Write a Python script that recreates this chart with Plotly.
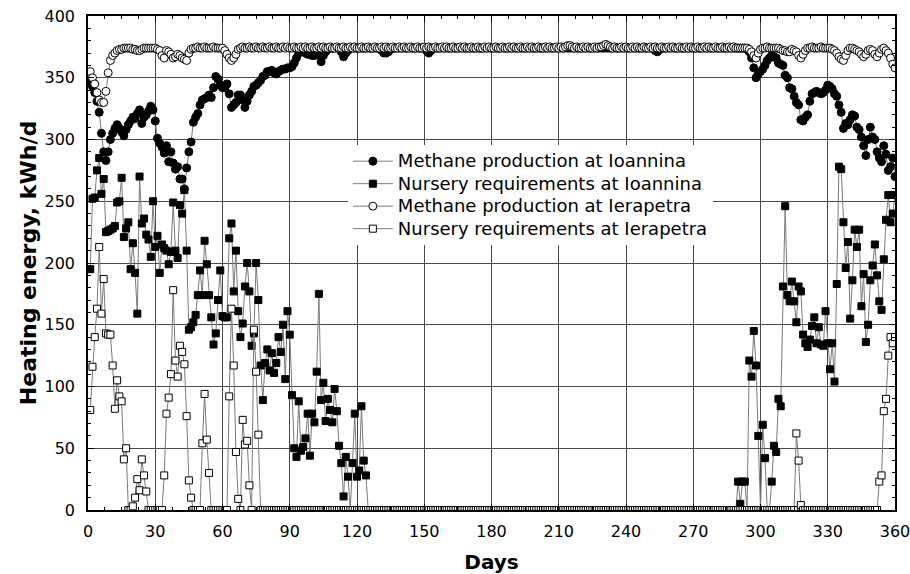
import plotly.graph_objects as go

# ---------------- data ----------------
days = list(range(1, 361))

methane_ioannina = [
    346, 343, 338, 331, 322, 305, 290, 283, 290, 300, 305, 309, 312, 309, 306, 303, 308, 312, 315, 318,
    317, 321, 324, 313, 318, 320, 323, 327, 324, 315, 301, 297, 294, 289, 295, 282, 290, 281, 276, 278,
    268, 268, 260, 277, 290, 298, 314, 318, 321, 328, 332, 333, 334, 336, 334, 342, 351, 349, 344, 342,
    342, 345, 337, 326, 328, 330, 336, 336, 332, 326, 331, 336, 339, 343, 344, 346, 348, 351, 352, 355,
    355, 356, 354, 353, 355, 356, 357, 357, 358, 358, 359, 362, 366, 370, 372, 371, 370, 369, 369, 368,
    368, 369, 371, 363, 368, 371, 373, 374, 374, 374, 374, 374, 371, 367, 370, 372, 374, 374, 374, 374,
    374, 374, 374, 374, 374, 374, 374, 374, 374, 374, 372, 370, 370, 371, 373, 374, 374, 374, 374, 374,
    374, 374, 374, 374, 374, 374, 374, 374, 374, 374, 372, 370, 372, 374, 374, 374, 374, 374, 374, 374,
    374, 374, 374, 374, 374, 374, 374, 374, 374, 374, 374, 374, 374, 374, 374, 374, 374, 374, 374, 374,
    374, 374, 374, 374, 374, 374, 374, 374, 374, 374, 374, 374, 374, 374, 374, 374, 374, 374, 374, 374,
    374, 374, 374, 374, 374, 374, 374, 374, 374, 374, 374, 374, 374, 374, 374, 374, 374, 374, 374, 374,
    374, 374, 374, 374, 374, 374, 374, 374, 374, 374, 374, 374, 374, 374, 374, 374, 374, 374, 374, 374,
    374, 374, 374, 374, 374, 374, 374, 374, 374, 374, 374, 374, 372, 371, 373, 374, 374, 374, 374, 374,
    374, 374, 374, 374, 374, 374, 374, 374, 374, 374, 374, 374, 374, 374, 374, 374, 374, 374, 374, 374,
    374, 374, 374, 374, 374, 374, 374, 374, 374, 374, 374, 374, 374, 373, 371, 366, 358, 350, 353, 355,
    357, 360, 364, 366, 368, 367, 366, 362, 361, 360, 352, 350, 342, 341, 335, 330, 328, 316, 315, 318,
    320, 331, 337, 338, 339, 338, 337, 338, 340, 344, 343, 341, 337, 335, 328, 322, 309, 313, 312, 316,
    320, 319, 310, 308, 302, 295, 287, 300, 310, 302, 300, 290, 285, 282, 295, 288, 275, 278, 285, 270,
]

nursery_ioannina = [
    195, 252, 253, 275, 285, 256, 268, 225, 226, 227, 228, 230, 249, 250, 269, 221, 228, 233, 195, 216,
    192, 159, 270, 232, 236, 223, 219, 205, 250, 213, 222, 192, 215, 212, 210, 199, 209, 249, 210, 204,
    247, 240, 259, 210, 146, 148, 152, 158, 174, 194, 174, 218, 199, 174, 156, 134, 143, 170, 194, 157,
    156, 156, 220, 232, 177, 210, 161, 140, 151, 181, 200, 177, 133, 143, 200, 170, 117, 89, 119, 130,
    113, 127, 111, 119, 140, 128, 150, 106, 161, 142, 93, 50, 43, 88, 48, 51, 58, 78, 44, 78,
    71, 112, 175, 89, 103, 72, 90, 81, 71, 98, 80, 52, 38, 11, 43, 27, 0, 38, 78, 27,
    32, 84, 40, 28, 0, 0, 0, 0, 0, 0, 0, 0, 0, 0, 0, 0, 0, 0, 0, 0,
    0, 0, 0, 0, 0, 0, 0, 0, 0, 0, 0, 0, 0, 0, 0, 0, 0, 0, 0, 0,
    0, 0, 0, 0, 0, 0, 0, 0, 0, 0, 0, 0, 0, 0, 0, 0, 0, 0, 0, 0,
    0, 0, 0, 0, 0, 0, 0, 0, 0, 0, 0, 0, 0, 0, 0, 0, 0, 0, 0, 0,
    0, 0, 0, 0, 0, 0, 0, 0, 0, 0, 0, 0, 0, 0, 0, 0, 0, 0, 0, 0,
    0, 0, 0, 0, 0, 0, 0, 0, 0, 0, 0, 0, 0, 0, 0, 0, 0, 0, 0, 0,
    0, 0, 0, 0, 0, 0, 0, 0, 0, 0, 0, 0, 0, 0, 0, 0, 0, 0, 0, 0,
    0, 0, 0, 0, 0, 0, 0, 0, 0, 0, 0, 0, 0, 0, 0, 0, 0, 0, 0, 0,
    0, 0, 0, 0, 0, 0, 0, 0, 0, 23, 5, 23, 23, 0, 121, 108, 145, 117, 60, 0,
    69, 42, 0, 0, 23, 52, 47, 90, 84, 181, 246, 174, 169, 185, 169, 152, 181, 177, 142, 135,
    132, 138, 149, 156, 135, 148, 134, 133, 161, 135, 114, 135, 104, 183, 278, 276, 233, 196, 217, 155,
    186, 227, 213, 227, 165, 191, 136, 150, 186, 198, 215, 190, 169, 162, 203, 235, 255, 233, 240, 255,
]

methane_ierapetra = [
    355, 350, 345, 338, 332, 330, 330, 339, 354, 364, 368, 370, 372, 373, 373, 374, 374, 374, 374, 373,
    373, 372, 372, 373, 374, 374, 374, 374, 374, 374, 373, 372, 368, 366, 372, 371, 369, 366, 367, 369,
    368, 366, 365, 364, 370, 373, 374, 374, 375, 374, 374, 375, 374, 374, 374, 375, 374, 374, 374, 374,
    372, 369, 366, 364, 366, 369, 373, 374, 375, 374, 374, 375, 374, 374, 375, 374, 374, 375, 374, 374,
    375, 374, 374, 375, 374, 374, 375, 374, 375, 374, 374, 375, 374, 374, 375, 374, 375, 374, 374, 375,
    374, 374, 375, 374, 375, 374, 374, 375, 374, 374, 375, 374, 374, 375, 374, 374, 375, 374, 375, 374,
    374, 375, 374, 374, 375, 374, 374, 375, 374, 374, 375, 374, 375, 374, 374, 375, 374, 374, 375, 374,
    375, 374, 374, 375, 374, 374, 375, 374, 374, 375, 374, 375, 374, 374, 375, 374, 374, 375, 374, 375,
    374, 374, 375, 374, 374, 375, 374, 375, 374, 374, 375, 374, 374, 375, 374, 374, 375, 374, 375, 374,
    374, 375, 374, 374, 375, 374, 374, 375, 374, 375, 374, 374, 375, 374, 374, 375, 374, 375, 374, 374,
    375, 374, 374, 375, 374, 375, 374, 374, 375, 374, 375, 374, 375, 376, 376, 375, 374, 375, 374, 374,
    375, 374, 375, 374, 374, 375, 374, 375, 375, 376, 377, 376, 375, 374, 375, 374, 374, 375, 374, 375,
    374, 374, 375, 374, 375, 374, 374, 375, 374, 374, 375, 374, 375, 374, 374, 375, 374, 374, 375, 374,
    375, 374, 374, 375, 374, 374, 375, 374, 375, 374, 374, 375, 374, 374, 375, 374, 375, 374, 374, 375,
    374, 374, 375, 374, 374, 375, 374, 375, 374, 374, 374, 374, 374, 374, 373, 371, 368, 366, 370, 373,
    374, 374, 375, 374, 374, 374, 374, 374, 373, 372, 372, 371, 371, 373, 372, 371, 368, 366, 369, 372,
    374, 374, 375, 374, 374, 374, 375, 374, 374, 374, 374, 373, 372, 370, 367, 365, 364, 368, 372, 374,
    374, 373, 372, 371, 369, 367, 369, 372, 373, 372, 369, 367, 370, 373, 374, 372, 370, 366, 361, 358,
]

nursery_ierapetra = [
    81, 116, 140, 163, 213, 159, 187, 143, 142, 142, 117, 82, 105, 92, 88, 41, 50, 0, 0, 3,
    10, 25, 16, 41, 28, 15, 0, 0, 0, 0, 0, 0, 0, 28, 78, 91, 110, 178, 121, 108,
    133, 128, 118, 76, 24, 10, 0, 0, 0, 0, 54, 94, 57, 30, 0, 0, 0, 0, 0, 0,
    0, 0, 92, 163, 117, 47, 9, 0, 73, 53, 56, 20, 0, 146, 112, 61, 0, 0, 0, 0,
    0, 0, 0, 0, 0, 0, 0, 0, 0, 0, 0, 0, 0, 0, 0, 0, 0, 0, 0, 0,
    0, 0, 0, 0, 0, 0, 0, 0, 0, 0, 0, 0, 0, 0, 0, 0, 0, 0, 0, 0,
    0, 0, 0, 0, 0, 0, 0, 0, 0, 0, 0, 0, 0, 0, 0, 0, 0, 0, 0, 0,
    0, 0, 0, 0, 0, 0, 0, 0, 0, 0, 0, 0, 0, 0, 0, 0, 0, 0, 0, 0,
    0, 0, 0, 0, 0, 0, 0, 0, 0, 0, 0, 0, 0, 0, 0, 0, 0, 0, 0, 0,
    0, 0, 0, 0, 0, 0, 0, 0, 0, 0, 0, 0, 0, 0, 0, 0, 0, 0, 0, 0,
    0, 0, 0, 0, 0, 0, 0, 0, 0, 0, 0, 0, 0, 0, 0, 0, 0, 0, 0, 0,
    0, 0, 0, 0, 0, 0, 0, 0, 0, 0, 0, 0, 0, 0, 0, 0, 0, 0, 0, 0,
    0, 0, 0, 0, 0, 0, 0, 0, 0, 0, 0, 0, 0, 0, 0, 0, 0, 0, 0, 0,
    0, 0, 0, 0, 0, 0, 0, 0, 0, 0, 0, 0, 0, 0, 0, 0, 0, 0, 0, 0,
    0, 0, 0, 0, 0, 0, 0, 0, 0, 0, 0, 0, 0, 0, 0, 0, 0, 0, 0, 0,
    0, 0, 0, 0, 0, 0, 0, 0, 0, 0, 0, 0, 0, 0, 0, 62, 40, 4, 0, 0,
    0, 0, 0, 0, 0, 0, 0, 0, 0, 0, 0, 0, 0, 0, 0, 0, 0, 0, 0, 0,
    0, 0, 0, 0, 0, 0, 0, 0, 0, 0, 0, 0, 23, 28, 80, 90, 125, 140, 135, 140,
]

series_names = [
    "Methane production at Ioannina",
    "Nursery requirements at Ioannina",
    "Methane production at Ierapetra",
    "Nursery requirements at Ierapetra",
]

x_tick_values = [0, 30, 60, 90, 120, 150, 180, 210, 240, 270, 300, 330, 360]
y_tick_values = [0, 50, 100, 150, 200, 250, 300, 350, 400]

# ---------------- figure ----------------
FONT = "DejaVu Sans"
LINE_COLOR = "#7a7a7a"

styles = [
    dict(symbol="circle", size=8, color="black"),
    dict(symbol="square", size=7, color="black"),
    dict(symbol="circle", size=8, color="white"),
    dict(symbol="square", size=7, color="white"),
]
all_series = [methane_ioannina, nursery_ioannina, methane_ierapetra, nursery_ierapetra]

fig = go.Figure()
for name, values, st in zip(series_names, all_series, styles):
    fig.add_trace(go.Scatter(
        x=days, y=values,
        name='<span style="font-size:18px">' + name + '</span>',
        mode="lines+markers",
        line=dict(color=LINE_COLOR, width=1),
        marker=dict(symbol=st["symbol"], size=st["size"], color=st["color"],
                    line=dict(color="black", width=1)),
    ))

axis_common = dict(
    showgrid=True, gridcolor="#4a4a4a", gridwidth=1,
    showline=True, linecolor="black", linewidth=1.5, mirror="ticks",
    ticks="inside", ticklen=6, tickcolor="black", tickwidth=1,
    tickfont=dict(family=FONT, size=16, color="black"),
    zeroline=False, automargin=False,
)

fig.update_layout(
    width=910, height=574,
    margin=dict(l=88, r=15, t=16, b=64),
    paper_bgcolor="white", plot_bgcolor="white",
    font=dict(family=FONT, color="black"),
    showlegend=True,
    legend=dict(
        x=0.322, y=0.739, xanchor="left", yanchor="top",
        bgcolor="white", borderwidth=0,
        font=dict(family=FONT, size=15, color="black"),
        itemwidth=40, tracegroupgap=0,
    ),
    xaxis=dict(
        range=[0, 360], tickmode="array", tickvals=x_tick_values,
        minor=dict(dtick=7.5, tick0=0, ticks="inside", ticklen=3, tickcolor="black", showgrid=False),
        title=dict(text="<b>Days</b>", font=dict(family=FONT, size=20), standoff=16),
        ticklabelstandoff=6, ticklabeloverflow="allow",
        **axis_common,
    ),
    yaxis=dict(
        range=[0, 400], tickmode="array", tickvals=y_tick_values,
        minor=dict(dtick=10, tick0=0, ticks="inside", ticklen=3, tickcolor="black", showgrid=False),
        title=dict(text="<b>Heating energy, kWh/d</b>", font=dict(family=FONT, size=22), standoff=2),
        ticklabelstandoff=8, ticklabeloverflow="allow",
        **axis_common,
    ),
)

fig.write_html("out.html")
